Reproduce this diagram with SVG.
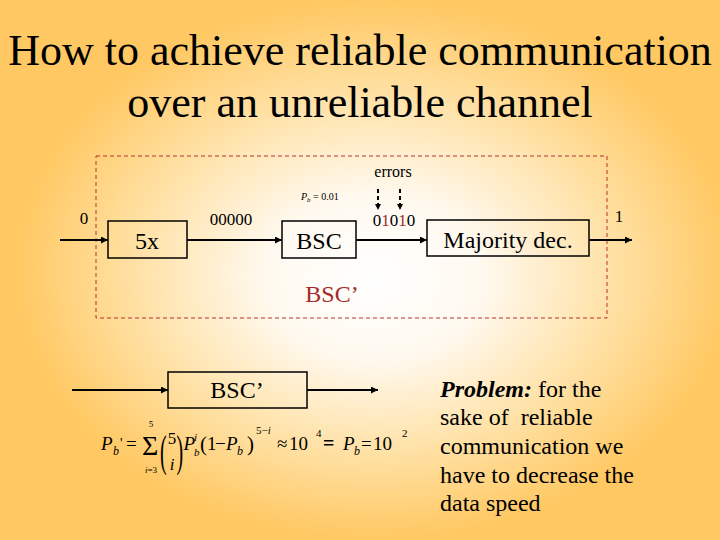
<svg xmlns="http://www.w3.org/2000/svg" width="720" height="540" viewBox="0 0 720 540">
<defs>
<radialGradient id="bg" cx="0.52" cy="0.5" r="0.5" fx="0.52" fy="0.52">
<stop offset="0" stop-color="#FFFFFF"/>
<stop offset="0.3" stop-color="#FFF9EF"/>
<stop offset="0.65" stop-color="#FFE2A8"/>
<stop offset="1" stop-color="#FFC862"/>
</radialGradient>
<marker id="arr" viewBox="0 0 8 8" refX="8" refY="4" markerWidth="7" markerHeight="7" markerUnits="userSpaceOnUse" orient="auto">
<path d="M0,0 L8,4 L0,8 z" fill="#000"/>
</marker>
<marker id="arrs" viewBox="0 0 8 8" refX="8" refY="4" markerWidth="6" markerHeight="6" markerUnits="userSpaceOnUse" orient="auto">
<path d="M0,0 L8,4 L0,8 z" fill="#000"/>
</marker>
</defs>
<style>
text{font-family:'Liberation Serif','Times New Roman',serif;fill:#000}
.box{fill:none;stroke:#000;stroke-width:1.5}
.ln{stroke:#000;stroke-width:2;fill:none}
.red{fill:#A52A2A}
.it{font-style:italic}
</style>
<rect x="0" y="0" width="720" height="540" fill="url(#bg)"/>

<g id="title">
<text x="360" y="65" font-size="44" text-anchor="middle">How to achieve reliable communication</text>
<text x="360" y="117" font-size="44" text-anchor="middle">over an unreliable channel</text>
</g>

<g id="bsc-prime-frame">
<rect x="96" y="156" width="511" height="162" fill="none" stroke="#B5332E" stroke-width="1" stroke-dasharray="4,3"/>
<text class="red" x="332" y="302" font-size="24" text-anchor="middle">BSC’</text>
</g>

<g id="connectors">
<line class="ln" x1="60" y1="240" x2="108" y2="240" marker-end="url(#arr)"/>
<line class="ln" x1="187" y1="240" x2="282" y2="240" marker-end="url(#arr)"/>
<line class="ln" x1="356" y1="240" x2="427" y2="240" marker-end="url(#arr)"/>
<line class="ln" x1="589" y1="240" x2="632" y2="240" marker-end="url(#arr)"/>
<line class="ln" x1="378" y1="189" x2="378" y2="210" stroke-dasharray="4,3" marker-end="url(#arrs)"/>
<line class="ln" x1="400" y1="189" x2="400" y2="210" stroke-dasharray="4,3" marker-end="url(#arrs)"/>
<line class="ln" x1="72" y1="390" x2="168" y2="390" marker-end="url(#arr)"/>
<line class="ln" x1="307" y1="390" x2="378" y2="390" marker-end="url(#arr)"/>
</g>

<g id="labels">
<text x="84" y="224" font-size="17" text-anchor="middle">0</text>
<text x="231" y="225" font-size="17" text-anchor="middle">00000</text>
<text x="393" y="177" font-size="16" text-anchor="middle">errors</text>
<text x="394" y="226" font-size="17" text-anchor="middle">0<tspan class="red">1</tspan>0<tspan class="red">1</tspan>0</text>
<text x="619" y="222" font-size="17" text-anchor="middle">1</text>
<text x="301" y="200" font-size="10"><tspan class="it">P</tspan><tspan class="it" font-size="7" dy="2">b</tspan><tspan dy="-2"> = 0.01</tspan></text>
</g>

<g id="node-5x">
<rect class="box" x="108" y="221" width="79" height="37"/>
<text x="147" y="249" font-size="24" text-anchor="middle">5x</text>
</g>

<g id="node-bsc">
<rect class="box" x="282" y="221" width="74" height="37"/>
<text x="319" y="249" font-size="24" text-anchor="middle">BSC</text>
</g>

<g id="node-majority">
<rect class="box" x="427" y="220" width="162" height="36"/>
<text x="508" y="248" font-size="24" text-anchor="middle">Majority dec.</text>
</g>

<g id="node-bsc-prime">
<rect class="box" x="168" y="372" width="139" height="36"/>
<text x="237" y="398" font-size="24" text-anchor="middle">BSC’</text>
</g>

<g id="formula">
<text x="101" y="450" font-size="19" class="it">P</text>
<text x="113" y="455" font-size="12" class="it">b</text>
<text x="120" y="448" font-size="14">'</text>
<text x="126" y="450" font-size="19">=</text>
<text x="142" y="455" font-size="28">Σ</text>
<text x="151" y="427" font-size="9" text-anchor="middle">5</text>
<text x="151" y="473" font-size="9" text-anchor="middle"><tspan class="it">i</tspan>=3</text>
<text font-size="20" transform="translate(160,466) scale(1,2.2)">(</text>
<text x="172" y="444" font-size="17" text-anchor="middle">5</text>
<text x="172" y="470" font-size="17" class="it" text-anchor="middle">i</text>
<text font-size="20" transform="translate(176.5,466) scale(1,2.2)">)</text>
<text x="183.5" y="450" font-size="19" class="it">P</text>
<text x="194" y="441" font-size="11" class="it">i</text>
<text x="194" y="456" font-size="11" class="it">b</text>
<text x="200" y="451" font-size="21">(</text>
<text x="207" y="450" font-size="19">1</text>
<text x="215" y="450" font-size="19">−</text>
<text x="226" y="450" font-size="19" class="it">P</text>
<text x="237" y="455" font-size="12" class="it">b</text>
<text x="247" y="451" font-size="21">)</text>
<text x="256" y="434" font-size="11">5−<tspan class="it">i</tspan></text>
<text x="277" y="450" font-size="19">≈</text>
<text x="289" y="450" font-size="19">10</text>
<text x="316" y="437" font-size="11">4</text>
<text x="323" y="450" font-size="20" font-weight="bold">=</text>
<text x="343" y="450" font-size="19" class="it">P</text>
<text x="354" y="455" font-size="12" class="it">b</text>
<text x="361" y="450" font-size="19">=</text>
<text x="373" y="450" font-size="19">10</text>
<text x="402" y="437" font-size="11">2</text>
</g>

<g id="problem-note">
<text x="440" y="397" font-size="24"><tspan font-weight="bold" font-style="italic">Problem:</tspan> for the</text>
<text x="440" y="425" font-size="24" xml:space="preserve">sake of  reliable</text>
<text x="440" y="454" font-size="24">communication we</text>
<text x="440" y="483" font-size="24">have to decrease the</text>
<text x="440" y="511" font-size="24">data speed</text>
</g>
</svg>
